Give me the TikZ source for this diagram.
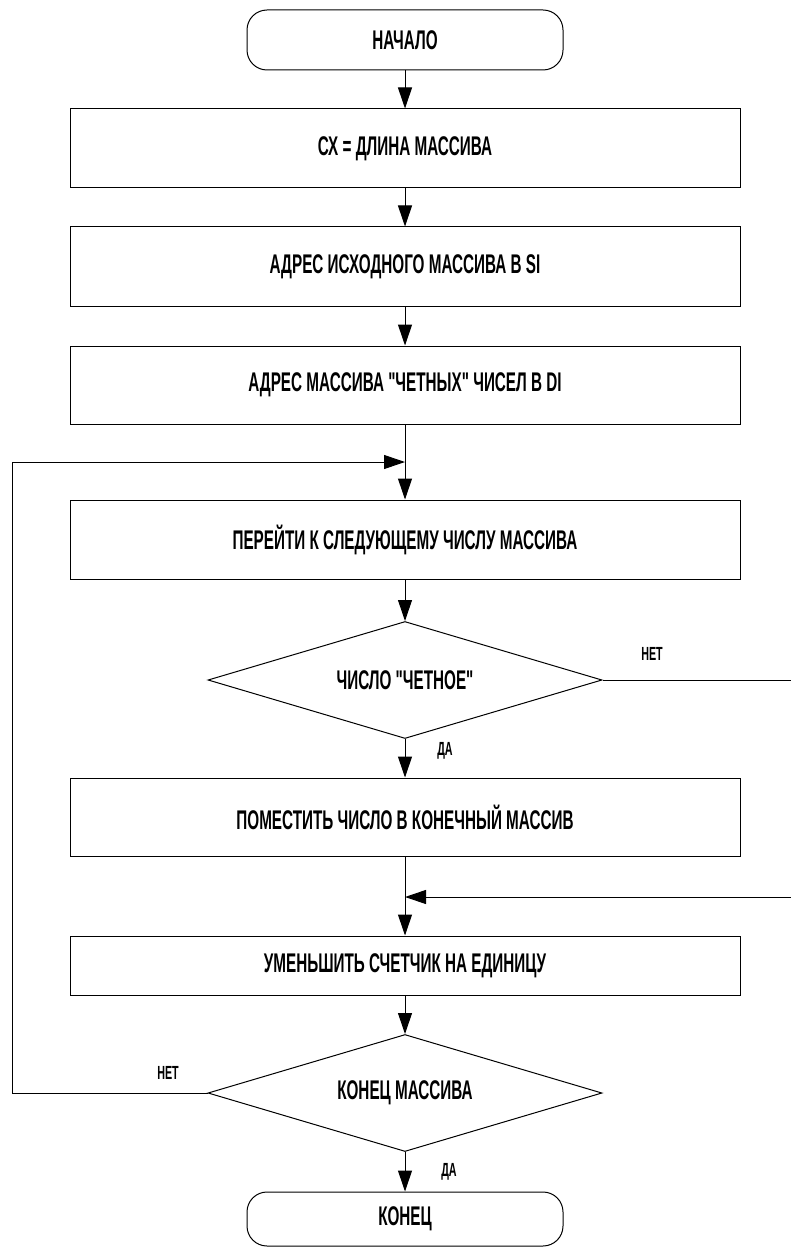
\documentclass[tikz,border=0pt]{standalone}
\usepackage{fontspec}
\newfontfamily\nf[FakeStretch=0.565]{Liberation Sans}
\usetikzlibrary{shapes.geometric,arrows.meta}
\begin{document}
\begin{tikzpicture}[x=1pt,y=-1pt,
  base/.style={draw=black,line width=1pt,font=\nf\fontsize{27}{32}\selectfont\bfseries,inner sep=0pt,align=center},
  procbox/.style={base,rectangle,minimum width=670pt},
  termbox/.style={base,rectangle,rounded corners=20pt,minimum width=316pt},
  decbox/.style={base,diamond,aspect=3.37,minimum width=394pt,minimum height=117pt},
  lbl/.style={font=\nf\fontsize{19}{23}\selectfont\bfseries,inner sep=0pt},
  conn/.style={line width=1pt,-{Triangle[length=21pt,width=14pt]}}]
\clip (0,0) rectangle (791,1249);
\node[termbox,minimum height=60pt] (start) at (405,40) {НАЧАЛО};
\node[procbox,minimum height=79pt] (b1) at (405,148.5) {СХ = ДЛИНА МАССИВА};
\node[procbox,minimum height=79pt] (b2) at (405,266.5) {АДРЕС ИСХОДНОГО МАССИВА В SI};
\node[procbox,minimum height=78pt] (b3) at (405,385) {АДРЕС МАССИВА "ЧЕТНЫХ" ЧИСЕЛ В DI};
\coordinate (j1) at (405,462);
\node[procbox,minimum height=79pt] (b4) at (405,539.5) {ПЕРЕЙТИ К СЛЕДУЮЩЕМУ ЧИСЛУ МАССИВА};
\node[decbox] (d1) at (405,680) {ЧИСЛО "ЧЕТНОЕ"};
\node[procbox,minimum height=78pt] (b5) at (405,817) {ПОМЕСТИТЬ ЧИСЛО В КОНЕЧНЫЙ МАССИВ};
\coordinate (j2) at (405,897);
\node[procbox,minimum height=59pt] (b6) at (405,965.5) {УМЕНЬШИТЬ СЧЕТЧИК НА ЕДИНИЦУ};
\node[decbox] (d2) at (405,1093) {КОНЕЦ МАССИВА};
\node[termbox,minimum height=54pt] (end) at (405,1219) {КОНЕЦ};
\coordinate (r1) at (797,680);
\coordinate (r2) at (797,897);
\coordinate (l1) at (12,1093);
\coordinate (l2) at (12,462);
\node[lbl] (no1) at (652,654) {НЕТ};
\node[lbl] (yes1) at (445,751) {ДА};
\node[lbl] (no2) at (168,1073) {НЕТ};
\node[lbl] (yes2) at (449,1172) {ДА};
\draw[conn] (start) -- (b1);
\draw[conn] (b1) -- (b2);
\draw[conn] (b2) -- (b3);
\draw[conn] (b3) -- (b4);
\draw[conn] (b4) -- (d1);
\draw[conn] (d1) -- (b5);
\draw[conn] (b5) -- (b6);
\draw[conn] (b6) -- (d2);
\draw[conn] (d2) -- (end);
\draw[conn] (d1.east) -- (r1) -- (r2) -- (j2);
\draw[conn] (d2.west) -- (l1) -- (l2) -- (j1);
\end{tikzpicture}
\end{document}
